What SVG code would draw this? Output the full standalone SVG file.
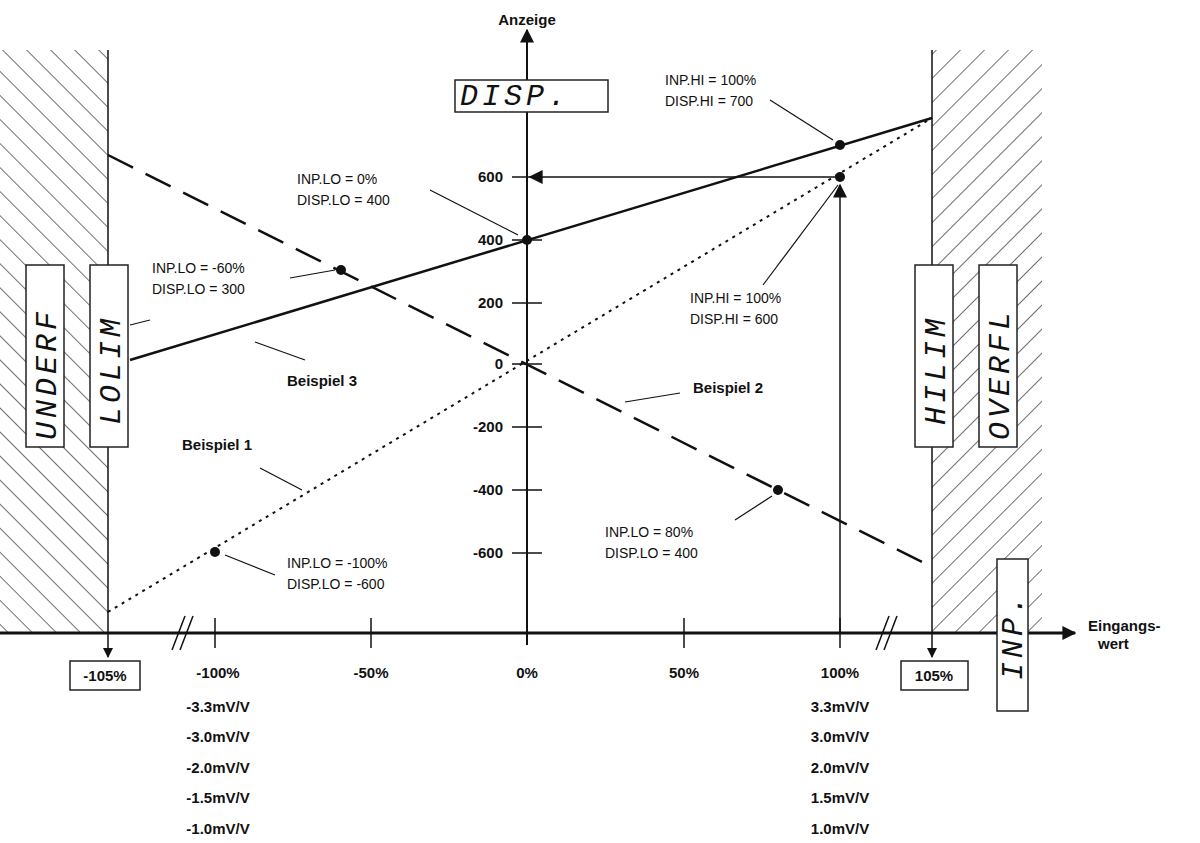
<svg xmlns="http://www.w3.org/2000/svg" width="1200" height="843" viewBox="0 0 1200 843">
<style>
text{font-family:"Liberation Sans",Arial,sans-serif;fill:#111}
.b{font-weight:bold;font-size:15px}
.s{font-size:14px}
.lcd{font-family:"Liberation Mono",monospace;font-style:italic;font-size:30px;letter-spacing:4px}
.box{fill:#fff;stroke:#222;stroke-width:1.5}
.ln{stroke:#111;fill:none}
</style>
<defs>
<pattern id="hl" width="17" height="17" patternUnits="userSpaceOnUse" patternTransform="rotate(-45)"><line x1="0" y1="0" x2="0" y2="17" stroke="#222" stroke-width="1.3"/></pattern>
<pattern id="hr" width="17" height="17" patternUnits="userSpaceOnUse" patternTransform="rotate(45)"><line x1="0" y1="0" x2="0" y2="17" stroke="#222" stroke-width="1.3"/></pattern>
<marker id="ar" viewBox="0 0 10 10" refX="9" refY="5" markerWidth="10" markerHeight="10" markerUnits="userSpaceOnUse" orient="auto"><path d="M0,0 L10,5 L0,10 z" fill="#111"/></marker>
<marker id="ab" viewBox="0 0 10 10" refX="9" refY="5" markerWidth="14" markerHeight="14" markerUnits="userSpaceOnUse" orient="auto"><path d="M0,0 L10,5 L0,10 z" fill="#111"/></marker>
</defs>
<rect width="1200" height="843" fill="#fff"/>
<g id="hatch">
<rect x="0" y="50" width="108" height="583" fill="url(#hl)"/>
<rect x="932" y="50" width="110" height="583" fill="url(#hr)"/>
</g>
<g id="connectors">
<line class="ln" x1="0" y1="633" x2="1075" y2="633" stroke-width="3" marker-end="url(#ab)"/>
<line class="ln" x1="527" y1="645" x2="527" y2="30" stroke-width="2" marker-end="url(#ab)"/>
<line class="ln" x1="108" y1="50" x2="108" y2="657" stroke-width="1.5" marker-end="url(#ar)"/>
<line class="ln" x1="932" y1="50" x2="932" y2="657" stroke-width="1.5" marker-end="url(#ar)"/>
<g stroke="#111" stroke-width="1.5">
<line x1="512" y1="177" x2="542" y2="177"/><line x1="512" y1="240" x2="542" y2="240"/><line x1="512" y1="303" x2="542" y2="303"/><line x1="512" y1="364" x2="542" y2="364"/><line x1="512" y1="427" x2="542" y2="427"/><line x1="512" y1="490" x2="542" y2="490"/><line x1="512" y1="553" x2="542" y2="553"/>
<line x1="215" y1="618" x2="215" y2="648"/><line x1="371" y1="618" x2="371" y2="648"/><line x1="684" y1="618" x2="684" y2="648"/><line x1="840" y1="618" x2="840" y2="648"/>
<line x1="172" y1="650" x2="185" y2="616"/><line x1="180" y1="650" x2="193" y2="616"/>
<line x1="876" y1="650" x2="889" y2="616"/><line x1="884" y1="650" x2="897" y2="616"/>
</g>
<line class="ln" x1="840" y1="633" x2="840" y2="185" stroke-width="1.5" marker-end="url(#ab)"/>
<line class="ln" x1="840" y1="177" x2="530" y2="177" stroke-width="1.5" marker-end="url(#ab)"/>
<line class="ln" x1="130" y1="360" x2="932" y2="118" stroke-width="2.5"/>
<line class="ln" x1="108" y1="612" x2="932" y2="118" stroke-width="2" stroke-dasharray="3,5"/>
<line class="ln" x1="108" y1="155" x2="932" y2="567" stroke-width="2.5" stroke-dasharray="28,14"/>
<g stroke="#111" stroke-width="1.2">
<line x1="430" y1="190" x2="518" y2="235"/>
<line x1="290" y1="278" x2="335" y2="270"/>
<line x1="255" y1="342" x2="305" y2="360"/>
<line x1="770" y1="100" x2="833" y2="140"/>
<line x1="763" y1="285" x2="838" y2="185"/>
<line x1="130" y1="325" x2="150" y2="320"/>
<line x1="260" y1="468" x2="302" y2="490"/>
<line x1="625" y1="402" x2="680" y2="393"/>
<line x1="735" y1="520" x2="772" y2="496"/>
<line x1="225" y1="555" x2="275" y2="575"/>
</g>
</g>
<g id="dots" fill="#111">
<circle cx="527" cy="240" r="5"/><circle cx="840" cy="145" r="5"/><circle cx="840" cy="177" r="5"/><circle cx="341" cy="270" r="5"/><circle cx="215" cy="552" r="5"/><circle cx="778" cy="490" r="5"/>
</g>
<g id="disp"><rect class="box" x="455" y="80" width="153" height="32"/><text class="lcd" x="460" y="105" font-size="24">DISP.</text></g>
<g id="underf"><rect class="box" x="26" y="265" width="38" height="182"/><text class="lcd" transform="translate(56,440) rotate(-90)">UNDERF</text></g>
<g id="lolim"><rect class="box" x="90" y="265" width="38" height="182"/><text class="lcd" transform="translate(120,425) rotate(-90)">LOLIM</text></g>
<g id="hilim"><rect class="box" x="915" y="265" width="38" height="182"/><text class="lcd" transform="translate(945,425) rotate(-90)">HILIM</text></g>
<g id="overfl"><rect class="box" x="979" y="265" width="38" height="182"/><text class="lcd" transform="translate(1009,440) rotate(-90)">OVERFL</text></g>
<g id="inp"><rect class="box" x="997" y="559" width="31" height="152"/><text class="lcd" font-size="26" transform="translate(1022,680) rotate(-90)">INP.</text></g>
<g id="m105"><rect class="box" x="70" y="661" width="70" height="29"/><text class="b" x="105" y="681" text-anchor="middle">-105%</text></g>
<g id="p105"><rect class="box" x="901" y="661" width="67" height="29"/><text class="b" x="934" y="681" text-anchor="middle">105%</text></g>
<g id="labels">
<text class="b" x="527" y="25" text-anchor="middle">Anzeige</text>
<text class="b" x="1088" y="631">Eingangs-</text><text class="b" x="1098" y="649">wert</text>
<g text-anchor="end">
<text class="b" x="503" y="182">600</text><text class="b" x="503" y="245">400</text><text class="b" x="503" y="308">200</text><text class="b" x="503" y="369">0</text><text class="b" x="503" y="432">-200</text><text class="b" x="503" y="495">-400</text><text class="b" x="503" y="558">-600</text>
</g>
<g text-anchor="middle">
<text class="b" x="218" y="678">-100%</text><text class="b" x="371" y="678">-50%</text><text class="b" x="527" y="678">0%</text><text class="b" x="684" y="678">50%</text><text class="b" x="840" y="678">100%</text>
<text class="b" x="218" y="712">-3.3mV/V</text><text class="b" x="218" y="742">-3.0mV/V</text><text class="b" x="218" y="773">-2.0mV/V</text><text class="b" x="218" y="803">-1.5mV/V</text><text class="b" x="218" y="834">-1.0mV/V</text>
<text class="b" x="840" y="712">3.3mV/V</text><text class="b" x="840" y="742">3.0mV/V</text><text class="b" x="840" y="773">2.0mV/V</text><text class="b" x="840" y="803">1.5mV/V</text><text class="b" x="840" y="834">1.0mV/V</text>
</g>
<text class="s" x="297" y="184">INP.LO = 0%</text><text class="s" x="297" y="205">DISP.LO = 400</text>
<text class="s" x="152" y="273">INP.LO = -60%</text><text class="s" x="152" y="294">DISP.LO = 300</text>
<text class="s" x="665" y="85">INP.HI = 100%</text><text class="s" x="665" y="106">DISP.HI = 700</text>
<text class="s" x="690" y="303">INP.HI = 100%</text><text class="s" x="690" y="324">DISP.HI = 600</text>
<text class="s" x="287" y="568">INP.LO = -100%</text><text class="s" x="287" y="589">DISP.LO = -600</text>
<text class="s" x="605" y="537">INP.LO = 80%</text><text class="s" x="605" y="558">DISP.LO = 400</text>
<text class="b" x="287" y="386">Beispiel 3</text>
<text class="b" x="182" y="450">Beispiel 1</text>
<text class="b" x="693" y="393">Beispiel 2</text>
</g>
</svg>
